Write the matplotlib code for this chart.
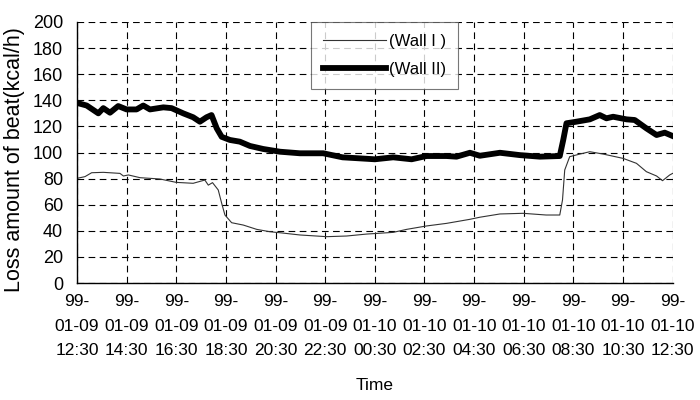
import numpy as np
import matplotlib.pyplot as plt

plt.rcParams['font.family'] = ['Liberation Sans', 'DejaVu Sans']

# hours after 99-01-09 12:30
hours_wall2 = [0, 0.39, 0.86, 1.06, 1.33, 1.66, 2.0, 2.4, 2.67, 2.94, 3.48, 3.81, 4.28, 4.68, 4.95,
               5.22, 5.42, 5.63, 5.83, 6.16, 6.56, 6.97, 7.5, 8.18, 8.98, 9.92, 10.7, 11.4, 12.0,
               12.74, 13.48, 14.08, 14.89, 15.29, 15.83, 16.23, 17.04, 17.84, 18.65, 19.45,
               19.59, 19.72, 20.12, 20.66, 21.06, 21.33, 21.6, 22.14, 22.47, 22.94, 23.35, 23.68, 24.0]
wall2 = [138, 136, 130, 134, 130.5, 135.6, 133, 133, 136, 133, 134.6, 134, 130, 127, 123.6,
         127, 128.7, 118.5, 112, 109.6, 108.3, 105, 102.7, 100.6, 99.4, 99.4, 96.3, 95.5, 94.8,
         96.3, 94.8, 97.3, 97.3, 96.8, 99.8, 97.5, 99.8, 98, 96.8, 97.3,
         109.6, 122.4, 123.6, 125.4, 128.7, 126.2, 127.4, 125.4, 124.9, 118.5, 113.4, 115.2, 112.6]

hours_wall1 = [0, 0.32, 0.59, 1.06, 1.73, 1.87, 2.07, 2.54, 3.34, 4.0, 4.68, 5.15, 5.29, 5.46,
               5.69, 5.83, 5.96, 6.23, 6.7, 7.24, 7.77, 8.18, 8.98, 10.06, 10.86, 11.67, 12.74,
               13.28, 14.08, 14.89, 15.83, 16.23, 17.04, 17.97, 18.9, 19.45, 19.56, 19.65, 19.85,
               20.26, 20.66, 21.2, 22.0, 22.54, 22.94, 23.35, 23.59, 23.88, 24.0]
wall1 = [80.2, 81.5, 84.5, 84.8, 84, 82, 82.8, 80.7, 79.7, 77.1, 76.4, 78.9, 75, 76.9,
         71.3, 61, 52.1, 46.2, 44.4, 41.1, 39.3, 38.5, 36.8, 35.5, 36, 37.5, 38.8,
         41.1, 43.7, 45.7, 48.8, 50.4, 52.9, 53.4, 52.1, 52.1, 63.6, 86.6, 96.8,
         98.8, 100.6, 98.8, 95.5, 91.7, 85.3, 82, 78.4, 82.8, 84]

tick_hours = np.arange(0, 25, 2)
tick_labels = ["99-\n01-09\n12:30", "99-\n01-09\n14:30", "99-\n01-09\n16:30", "99-\n01-09\n18:30",
               "99-\n01-09\n20:30", "99-\n01-09\n22:30", "99-\n01-10\n00:30", "99-\n01-10\n02:30",
               "99-\n01-10\n04:30", "99-\n01-10\n06:30", "99-\n01-10\n08:30", "99-\n01-10\n10:30",
               "99-\n01-10\n12:30"]

fig = plt.figure(figsize=(7, 4), dpi=100)
ax = fig.add_axes([0.11, 0.2925, 0.851, 0.6525])

ax.plot(hours_wall1, wall1, color='#333333', lw=0.8, label='(Wall I )')
ax.plot(hours_wall2, wall2, color='black', lw=4.2, label='(Wall II)')

ax.set_xlim(0, 24)
ax.set_ylim(0, 200)
ax.set_yticks(np.arange(0, 201, 20))
ax.set_xticks(tick_hours)
ax.set_xticklabels(tick_labels, linespacing=1.8)
ax.tick_params(length=0, labelsize=12.5, pad=8)
ax.tick_params(axis='y', pad=10, labelsize=13)
ax.grid(True, color='black', lw=0.8, linestyle=(0, (6, 4)))
for s in ['top', 'right']:
    ax.spines[s].set_visible(False)
ax.spines['left'].set_linewidth(1)
ax.spines['bottom'].set_linewidth(1)

ax.set_xlabel('Time', fontsize=12.5, labelpad=14)
fig.text(15 / 700, 1 - 292 / 400, 'Loss amount of beat(kcal/h)', rotation=90,
         ha='center', va='bottom', fontsize=15.5)

leg = ax.legend(loc='upper left', bbox_to_anchor=(0.393, 1.0), frameon=True, fancybox=False,
                edgecolor='#555555', fontsize=12, handlelength=3.8, handletextpad=0.2,
                borderpad=0.7, labelspacing=0.8, borderaxespad=0)
leg.get_frame().set_linewidth(0.8)

plt.savefig('out.png', dpi=100)
